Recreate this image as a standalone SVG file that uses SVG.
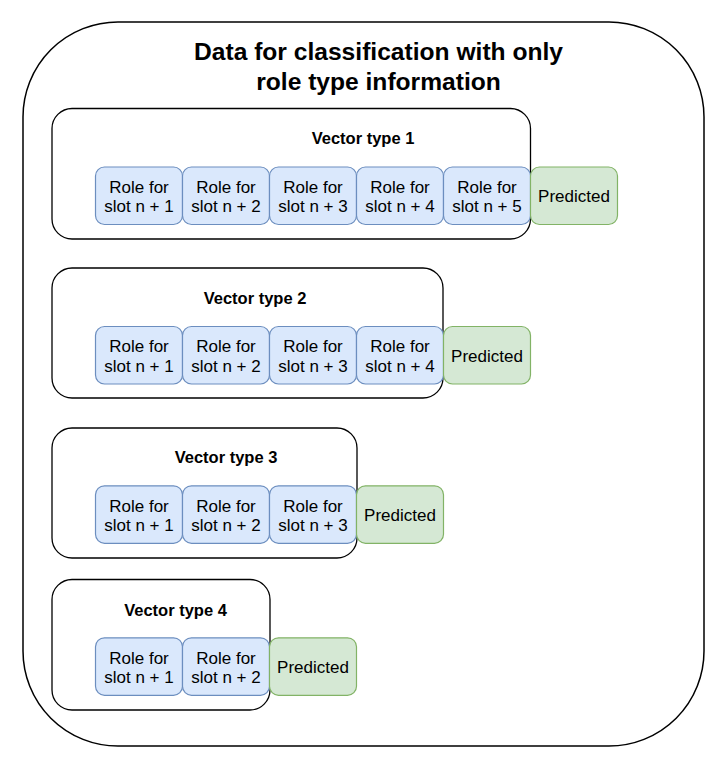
<svg xmlns="http://www.w3.org/2000/svg" width="728" height="765" viewBox="0 0 728 765">
<style>
.outer{fill:#fff;stroke:#000;stroke-width:1.5}
.vbox{fill:#fff;stroke:#000;stroke-width:1.3}
.role{fill:#dae8fc;stroke:#6c8ebf;stroke-width:1.2}
.pred{fill:#d5e8d4;stroke:#82b366;stroke-width:1.2}
.title{font-family:"Liberation Sans",Arial,sans-serif;font-weight:bold;font-size:24.6px;text-anchor:middle;fill:#000}
.vlabel{font-family:"Liberation Sans",Arial,sans-serif;font-weight:bold;font-size:16.5px;text-anchor:middle;fill:#000}
.t{font-family:"Liberation Sans",Arial,sans-serif;font-size:17px;text-anchor:middle;fill:#000}
</style>
<rect width="728" height="765" fill="#fff"/>
<g id="container">
<rect class="outer" x="23" y="22" width="681" height="724" rx="95" ry="95"/>
<text class="title" x="378.5" y="60">Data for classification with only</text>
<text class="title" x="378.5" y="89.5">role type information</text>
</g>
<g id="vector1">
<rect class="vbox" x="52" y="108.5" width="478.5" height="130.5" rx="20" ry="20"/>
<text class="vlabel" x="363" y="144">Vector type 1</text>
</g>
<g id="vector2">
<rect class="vbox" x="52" y="268" width="391" height="130" rx="20" ry="20"/>
<text class="vlabel" x="255" y="304">Vector type 2</text>
</g>
<g id="vector3">
<rect class="vbox" x="52" y="428" width="305" height="130" rx="20" ry="20"/>
<text class="vlabel" x="226" y="463">Vector type 3</text>
</g>
<g id="vector4">
<rect class="vbox" x="52" y="579.5" width="218" height="130.5" rx="20" ry="20"/>
<text class="vlabel" x="175.5" y="616">Vector type 4</text>
</g>
<g id="v1-cells">
<g id="v1-r1"><rect class="role" x="95.5" y="167" width="87" height="57.5" rx="9"/><text class="t" x="139" y="192.7">Role for</text><text class="t" x="139" y="212.2">slot n + 1</text></g>
<g id="v1-r2"><rect class="role" x="182.5" y="167" width="87" height="57.5" rx="9"/><text class="t" x="226" y="192.7">Role for</text><text class="t" x="226" y="212.2">slot n + 2</text></g>
<g id="v1-r3"><rect class="role" x="269.5" y="167" width="87" height="57.5" rx="9"/><text class="t" x="313" y="192.7">Role for</text><text class="t" x="313" y="212.2">slot n + 3</text></g>
<g id="v1-r4"><rect class="role" x="356.5" y="167" width="87" height="57.5" rx="9"/><text class="t" x="400" y="192.7">Role for</text><text class="t" x="400" y="212.2">slot n + 4</text></g>
<g id="v1-r5"><rect class="role" x="443.5" y="167" width="87" height="57.5" rx="9"/><text class="t" x="487" y="192.7">Role for</text><text class="t" x="487" y="212.2">slot n + 5</text></g>
<g id="v1-pred"><rect class="pred" x="530.5" y="167" width="87" height="57.5" rx="9"/><text class="t" x="574" y="201.7">Predicted</text></g>
</g>
<g id="v2-cells">
<g id="v2-r1"><rect class="role" x="95.5" y="326.5" width="87" height="57.5" rx="9"/><text class="t" x="139" y="352.3">Role for</text><text class="t" x="139" y="371.7">slot n + 1</text></g>
<g id="v2-r2"><rect class="role" x="182.5" y="326.5" width="87" height="57.5" rx="9"/><text class="t" x="226" y="352.3">Role for</text><text class="t" x="226" y="371.7">slot n + 2</text></g>
<g id="v2-r3"><rect class="role" x="269.5" y="326.5" width="87" height="57.5" rx="9"/><text class="t" x="313" y="352.3">Role for</text><text class="t" x="313" y="371.7">slot n + 3</text></g>
<g id="v2-r4"><rect class="role" x="356.5" y="326.5" width="87" height="57.5" rx="9"/><text class="t" x="400" y="352.3">Role for</text><text class="t" x="400" y="371.7">slot n + 4</text></g>
<g id="v2-pred"><rect class="pred" x="443.5" y="326.5" width="87" height="57.5" rx="9"/><text class="t" x="487" y="361.5">Predicted</text></g>
</g>
<g id="v3-cells">
<g id="v3-r1"><rect class="role" x="95.5" y="485.8" width="87" height="57.5" rx="9"/><text class="t" x="139" y="511.6">Role for</text><text class="t" x="139" y="531">slot n + 1</text></g>
<g id="v3-r2"><rect class="role" x="182.5" y="485.8" width="87" height="57.5" rx="9"/><text class="t" x="226" y="511.6">Role for</text><text class="t" x="226" y="531">slot n + 2</text></g>
<g id="v3-r3"><rect class="role" x="269.5" y="485.8" width="87" height="57.5" rx="9"/><text class="t" x="313" y="511.6">Role for</text><text class="t" x="313" y="531">slot n + 3</text></g>
<g id="v3-pred"><rect class="pred" x="356.5" y="485.8" width="87" height="57.5" rx="9"/><text class="t" x="400" y="520.8">Predicted</text></g>
</g>
<g id="v4-cells">
<g id="v4-r1"><rect class="role" x="95.5" y="637.8" width="87" height="57.5" rx="9"/><text class="t" x="139" y="663.6">Role for</text><text class="t" x="139" y="683">slot n + 1</text></g>
<g id="v4-r2"><rect class="role" x="182.5" y="637.8" width="87" height="57.5" rx="9"/><text class="t" x="226" y="663.6">Role for</text><text class="t" x="226" y="683">slot n + 2</text></g>
<g id="v4-pred"><rect class="pred" x="269.5" y="637.8" width="87" height="57.5" rx="9"/><text class="t" x="313" y="672.8">Predicted</text></g>
</g>
<g id="connectors"></g>
</svg>
